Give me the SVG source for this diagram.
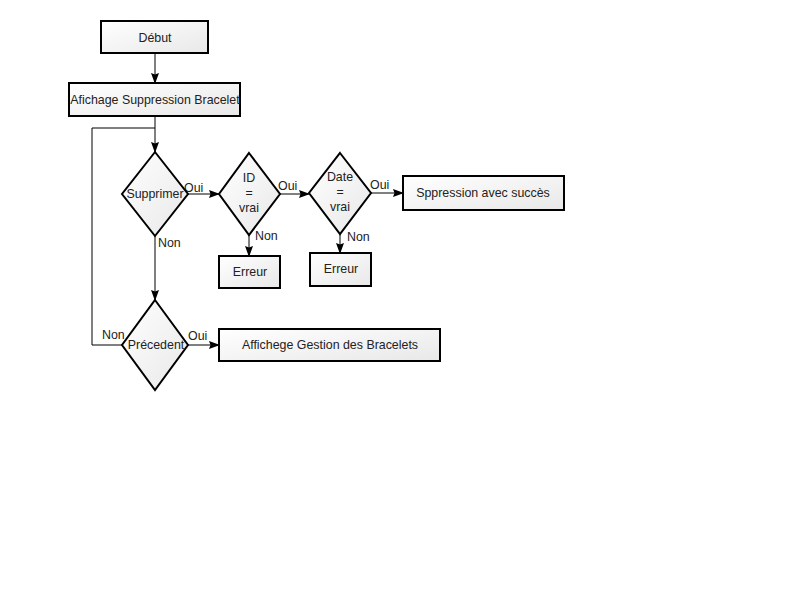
<svg xmlns="http://www.w3.org/2000/svg" width="800" height="600" viewBox="0 0 800 600">
<defs>
<linearGradient id="g" x1="0" y1="0" x2="1" y2="1">
<stop offset="0" stop-color="#ffffff"/>
<stop offset="1" stop-color="#e8e8e8"/>
</linearGradient>
<marker id="a" markerWidth="11" markerHeight="10" refX="10" refY="5" orient="auto" markerUnits="userSpaceOnUse">
<path d="M0,1 L11,5 L0,9 L1.5,5 Z" fill="#000"/>
</marker>
</defs>
<style>
.n{fill:url(#g);stroke:#000;stroke-width:2}
.t{font-family:"Liberation Sans",Arial,sans-serif;font-size:12.4px;fill:#222;text-anchor:middle}
.l{font-family:"Liberation Sans",Arial,sans-serif;font-size:12.4px;fill:#222}
.c{fill:none;stroke:#000;stroke-width:1}
</style>
<rect width="800" height="600" fill="#fff"/>
<g id="connectors">
<path class="c" d="M155,53 V83" marker-end="url(#a)"/>
<path class="c" d="M155,116 V152" marker-end="url(#a)"/>
<path class="c" d="M122,345 H92 V128 H155"/>
<path class="c" d="M188,194 H219" marker-end="url(#a)"/>
<path class="c" d="M280,194 H309" marker-end="url(#a)"/>
<path class="c" d="M371,193 H403" marker-end="url(#a)"/>
<path class="c" d="M249,235 V256" marker-end="url(#a)"/>
<path class="c" d="M340,234 V253" marker-end="url(#a)"/>
<path class="c" d="M155,236 V300" marker-end="url(#a)"/>
<path class="c" d="M188,345 H219" marker-end="url(#a)"/>
<text class="l" x="184" y="192">Oui</text>
<text class="l" x="278" y="190">Oui</text>
<text class="l" x="370" y="189">Oui</text>
<text class="l" x="158" y="247">Non</text>
<text class="l" x="255" y="240">Non</text>
<text class="l" x="347" y="241">Non</text>
<text class="l" x="102" y="339">Non</text>
<text class="l" x="188" y="340">Oui</text>
</g>
<g id="debut"><rect class="n" x="101" y="21" width="107" height="32"/><text class="t" x="155" y="42">Début</text></g>
<g id="afichage"><rect class="n" x="69" y="83" width="171" height="33"/><text class="t" x="155" y="104">Afichage Suppression Bracelet</text></g>
<g id="supprimer"><polygon class="n" points="155,152 188,194 155,236 122,194"/><text class="t" x="155" y="198">Supprimer</text></g>
<g id="id"><polygon class="n" points="249,153 280,194 249,235 219,194"/><text class="t" x="249" y="182">ID</text><text class="t" x="249" y="197">=</text><text class="t" x="249" y="212">vrai</text></g>
<g id="date"><polygon class="n" points="340,153 371,193 340,234 309,193"/><text class="t" x="340" y="181">Date</text><text class="t" x="340" y="196">=</text><text class="t" x="340" y="211">vrai</text></g>
<g id="succes"><rect class="n" x="403" y="176" width="161" height="34"/><text class="t" x="483" y="197">Sppression avec succès</text></g>
<g id="erreur1"><rect class="n" x="219" y="256" width="61" height="32"/><text class="t" x="250" y="276">Erreur</text></g>
<g id="erreur2"><rect class="n" x="310" y="253" width="61" height="33"/><text class="t" x="341" y="273">Erreur</text></g>
<g id="precedent"><polygon class="n" points="155,300 188,345 155,390 122,345"/><text class="t" x="156" y="349">Précedent</text></g>
<g id="gestion"><rect class="n" x="219" y="329" width="221" height="32"/><text class="t" x="330" y="349">Affichege Gestion des Bracelets</text></g>
</svg>
